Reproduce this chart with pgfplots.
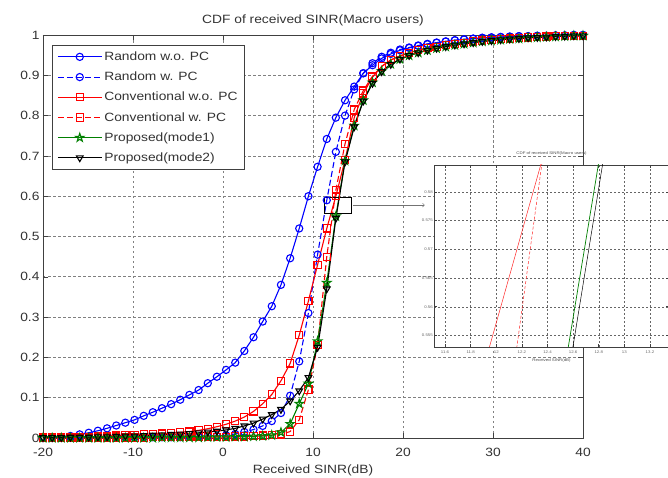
\documentclass[border=0pt]{standalone}
\usepackage{fontspec}
\setmainfont{Liberation Sans}[FakeStretch=1.15]
\usepackage{pgfplots}
\pgfplotsset{compat=1.18}
\usepackage{pgfplotstable}

\definecolor{mgreen}{rgb}{0,0.5,0}

% five-pointed star marker
\pgfdeclareplotmark{pentagram}{%
  \pgfpathmoveto{\pgfpointpolar{90}{1.2*\pgfplotmarksize}}%
  \pgfpathlineto{\pgfpointpolar{126}{0.46*\pgfplotmarksize}}%
  \pgfpathlineto{\pgfpointpolar{162}{1.2*\pgfplotmarksize}}%
  \pgfpathlineto{\pgfpointpolar{198}{0.46*\pgfplotmarksize}}%
  \pgfpathlineto{\pgfpointpolar{234}{1.2*\pgfplotmarksize}}%
  \pgfpathlineto{\pgfpointpolar{270}{0.46*\pgfplotmarksize}}%
  \pgfpathlineto{\pgfpointpolar{306}{1.2*\pgfplotmarksize}}%
  \pgfpathlineto{\pgfpointpolar{342}{0.46*\pgfplotmarksize}}%
  \pgfpathlineto{\pgfpointpolar{18}{1.2*\pgfplotmarksize}}%
  \pgfpathlineto{\pgfpointpolar{54}{0.46*\pgfplotmarksize}}%
  \pgfpathclose\pgfusepathqstroke}

% CDF of received SINR for each scheme
\pgfplotstableread{
x rnd rndpc conv convpc pa pb
-20.00 0.000 0.000 0.001 0.000 0.000 0.001
-18.98 0.001 0.000 0.001 0.000 0.000 0.001
-17.97 0.002 0.001 0.002 0.000 0.000 0.001
-16.95 0.005 0.001 0.002 0.001 0.000 0.002
-15.93 0.009 0.001 0.003 0.001 0.000 0.002
-14.92 0.013 0.001 0.003 0.001 0.000 0.002
-13.90 0.018 0.001 0.004 0.001 0.000 0.003
-12.88 0.024 0.001 0.005 0.001 0.000 0.003
-11.86 0.031 0.001 0.006 0.001 0.000 0.004
-10.85 0.038 0.001 0.007 0.001 0.000 0.005
-9.83 0.045 0.001 0.008 0.001 0.000 0.005
-8.81 0.055 0.002 0.009 0.001 0.000 0.006
-7.80 0.064 0.002 0.010 0.002 0.000 0.007
-6.78 0.074 0.002 0.011 0.002 0.001 0.008
-5.76 0.084 0.002 0.012 0.002 0.001 0.009
-4.75 0.095 0.002 0.014 0.002 0.001 0.010
-3.73 0.107 0.003 0.016 0.002 0.001 0.011
-2.71 0.119 0.003 0.019 0.002 0.001 0.013
-1.69 0.136 0.004 0.023 0.003 0.002 0.015
-0.68 0.152 0.005 0.028 0.003 0.002 0.017
0.34 0.169 0.007 0.034 0.003 0.002 0.020
1.36 0.187 0.010 0.042 0.004 0.003 0.024
2.37 0.216 0.015 0.052 0.004 0.003 0.030
3.39 0.250 0.021 0.066 0.005 0.004 0.037
4.41 0.289 0.030 0.085 0.006 0.005 0.047
5.42 0.327 0.042 0.108 0.007 0.007 0.058
6.44 0.380 0.062 0.142 0.009 0.014 0.071
7.46 0.446 0.105 0.185 0.016 0.035 0.092
8.47 0.520 0.190 0.255 0.045 0.085 0.117
9.49 0.600 0.310 0.340 0.120 0.135 0.150
10.51 0.673 0.455 0.430 0.230 0.240 0.225
11.53 0.742 0.590 0.520 0.450 0.385 0.370
12.54 0.795 0.710 0.600 0.615 0.550 0.545
13.56 0.838 0.800 0.690 0.730 0.688 0.685
14.58 0.872 0.865 0.795 0.815 0.775 0.772
15.59 0.905 0.905 0.855 0.862 0.838 0.836
16.61 0.925 0.930 0.895 0.898 0.882 0.880
17.63 0.942 0.946 0.922 0.922 0.910 0.909
18.64 0.953 0.956 0.938 0.938 0.928 0.927
19.66 0.962 0.964 0.948 0.948 0.940 0.940
20.68 0.968 0.969 0.956 0.956 0.949 0.949
21.69 0.973 0.974 0.962 0.962 0.956 0.956
22.71 0.977 0.978 0.967 0.967 0.962 0.962
23.73 0.981 0.981 0.971 0.971 0.967 0.967
24.75 0.984 0.984 0.975 0.975 0.971 0.971
25.76 0.987 0.987 0.978 0.978 0.975 0.975
26.78 0.989 0.989 0.981 0.981 0.978 0.978
27.80 0.991 0.991 0.984 0.984 0.981 0.981
28.81 0.993 0.993 0.986 0.986 0.984 0.984
29.83 0.994 0.994 0.988 0.988 0.986 0.986
30.85 0.995 0.995 0.990 0.990 0.988 0.988
31.86 0.996 0.996 0.991 0.991 0.990 0.990
32.88 0.997 0.997 0.993 0.993 0.991 0.991
33.90 0.997 0.997 0.994 0.994 0.993 0.993
34.92 0.998 0.998 0.995 0.995 0.994 0.994
35.93 0.998 0.998 0.996 0.996 0.995 0.995
36.95 0.999 0.999 0.997 0.997 0.996 0.996
37.97 0.999 0.999 0.997 0.997 0.997 0.997
38.98 1.000 1.000 0.998 0.998 0.998 0.998
40.00 1.000 1.000 0.998 0.998 0.998 0.998
}\cdfdata

\pgfplotsset{
  matgrid/.style={
    xmajorgrids=true, ymajorgrids=true,
    axis line style={black!75, line width=0.7pt},
    tick style={black!75, line width=0.6pt},
    tick align=inside,
    /pgf/number format/assume math mode=true,
  },
}

\begin{document}
\begin{tikzpicture}
\begin{axis}[
  matgrid,
  at={(43pt,39pt)}, anchor=south west,
  scale only axis, width=540pt, height=403pt,
  xmin=-20, xmax=40, ymin=0, ymax=1,
  xtick={-20,-10,0,10,20,30,40},
  ytick={0,0.1,0.2,0.3,0.4,0.5,0.6,0.7,0.8,0.9,1},
  major grid style={draw=black!50, line width=0.7pt, dash pattern=on 2.5pt off 2.5pt},
  major tick length=5pt,
  font=\fontsize{12}{14}\selectfont,
  tick label style={text=black!80},
  xticklabel style={anchor=base, yshift=-18.5pt},
  yticklabel style={/pgf/number format/fixed},
  title={CDF of received SINR(Macro users)},
  title style={at={(0.5,1)}, anchor=south, yshift=-1pt, text=black!80},
  xlabel={Received SINR(dB)},
  xlabel style={at={(0.5,0)}, anchor=base, yshift=-35.5pt, text=black!80},
  legend cell align=left,
  legend style={at={(0.0167,0.975)}, anchor=north west, draw=black!75,
    font=\fontsize{12}{14}\selectfont, text=black!80,
    row sep=6pt, inner xsep=5pt, inner ysep=4.5pt},
  legend image code/.code={%
    \draw[mark repeat=2, mark phase=2] plot coordinates {(0pt,0pt) (22pt,0pt) (44pt,0pt)};},
]
\addplot[blue, line width=1.1pt, mark=o, mark size=3.6pt, mark options={solid}]
  table[x=x, y=rnd]{\cdfdata};
\addlegendentry{Random w.o. PC}
\addplot[blue, line width=1.1pt, dash pattern=on 6pt off 3pt, mark=o, mark size=3.6pt, mark options={solid}]
  table[x=x, y=rndpc]{\cdfdata};
\addlegendentry{Random w. PC}
\addplot[red, line width=1.1pt, mark=square, mark size=3.6pt, mark options={solid}]
  table[x=x, y=conv]{\cdfdata};
\addlegendentry{Conventional w.o. PC}
\addplot[red, line width=1.1pt, dash pattern=on 6pt off 3pt, mark=square, mark size=3.6pt, mark options={solid}]
  table[x=x, y=convpc]{\cdfdata};
\addlegendentry{Conventional w. PC}
\addplot[mgreen, line width=1.1pt, mark=pentagram, mark size=3.6pt, mark options={solid}]
  table[x=x, y=pa]{\cdfdata};
\addlegendentry{Proposed(mode1)}
\addplot[black, line width=1.1pt, mark=triangle, mark size=3.8pt, mark options={solid, rotate=180}]
  table[x=x, y=pb]{\cdfdata};
\addlegendentry{Proposed(mode2)}
% zoom window and pointer to the magnified view
\draw[black, line width=1pt] (axis cs:11.3,0.558) rectangle (axis cs:14.3,0.598);
\draw[->, black!55, line width=0.6pt] (axis cs:14.4,0.578) -- (axis cs:22.4,0.578);
\end{axis}

% magnified view
\begin{axis}[
  matgrid,
  at={(434pt,130pt)}, anchor=south west,
  scale only axis, width=235pt, height=182pt,
  axis background/.style={fill=white},
  xmin=11.514, xmax=13.349, ymin=0.553, ymax=0.5847,
  xtick={11.6,11.8,12,12.2,12.4,12.6,12.8,13,13.2},
  ytick={0.555,0.56,0.565,0.57,0.575,0.58},
  major tick length=3pt,
  major grid style={draw=black!60, line width=0.5pt, dash pattern=on 2pt off 2pt},
  axis line style={black!75, line width=0.6pt},
  font=\fontsize{3.8}{4.5}\selectfont,
  tick label style={text=black!60, inner sep=1pt},
  xticklabel style={anchor=base, yshift=-6.5pt, /pgf/number format/fixed, /pgf/number format/precision=1},
  yticklabel style={/pgf/number format/fixed, /pgf/number format/precision=3},
  title={CDF of received SINR(Macro users)},
  title style={at={(0.5,1)}, anchor=south, yshift=2pt, inner sep=1pt, text=black!70},
  xlabel={Received SINR(dB)},
  xlabel style={at={(0.5,0)}, anchor=base, yshift=-14.4pt, inner sep=1pt, text=black!70},
]
\addplot[blue, line width=0.5pt, mark=o, mark size=1.8pt, mark options={solid}]
  table[x=x, y=rnd]{\cdfdata};
\addplot[blue, line width=0.5pt, dash pattern=on 3pt off 2pt, mark=o, mark size=1.8pt, mark options={solid}]
  table[x=x, y=rndpc]{\cdfdata};
\addplot[red!85, line width=0.5pt, mark=square, mark size=1.8pt, mark options={solid}]
  table[x=x, y=conv]{\cdfdata};
\addplot[red!85, line width=0.5pt, dash pattern=on 3pt off 2pt, mark=square, mark size=1.8pt, mark options={solid}]
  table[x=x, y=convpc]{\cdfdata};
\addplot[mgreen, line width=0.7pt, mark=pentagram, mark size=1.8pt, mark options={solid}]
  table[x=x, y=pa]{\cdfdata};
\addplot[black, line width=0.5pt, mark=triangle, mark size=1.8pt, mark options={solid, rotate=180}]
  table[x=x, y=pb]{\cdfdata};
\end{axis}

\pgfresetboundingbox
\path[use as bounding box] (0pt,0pt) rectangle (668pt,477pt);
\end{tikzpicture}
\end{document}
